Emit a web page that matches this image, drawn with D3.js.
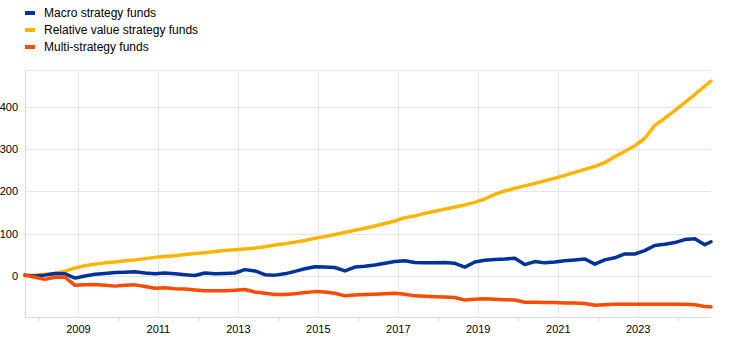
<!DOCTYPE html>
<html>
<head>
<meta charset="utf-8">
<script src="https://cdn.jsdelivr.net/npm/d3@7"></script>
<style>
  html, body { margin: 0; padding: 0; background: #fff; }
  svg { display: block; font-family: Arial, "Liberation Sans", sans-serif; }
</style>
</head>
<body>
<svg id="chart" width="744" height="360"></svg>
<script>
// ---- Data (quarterly readings, index level) ----
const dates = [
  "2007-09-01","2007-12-01",
  "2008-03-01","2008-06-01","2008-09-01","2008-12-01",
  "2009-03-01","2009-06-01","2009-09-01","2009-12-01",
  "2010-03-01","2010-06-01","2010-09-01","2010-12-01",
  "2011-03-01","2011-06-01","2011-09-01","2011-12-01",
  "2012-03-01","2012-06-01","2012-09-01","2012-12-01",
  "2013-03-01","2013-06-01","2013-09-01","2013-12-01",
  "2014-03-01","2014-06-01","2014-09-01","2014-12-01",
  "2015-03-01","2015-06-01","2015-09-01","2015-12-01",
  "2016-03-01","2016-06-01","2016-09-01","2016-12-01",
  "2017-03-01","2017-06-01","2017-09-01","2017-12-01",
  "2018-03-01","2018-06-01","2018-09-01","2018-12-01",
  "2019-03-01","2019-06-01","2019-09-01","2019-12-01",
  "2020-03-01","2020-06-01","2020-09-01","2020-12-01",
  "2021-03-01","2021-06-01","2021-09-01","2021-12-01",
  "2022-03-01","2022-06-01","2022-09-01","2022-12-01",
  "2023-03-01","2023-06-01","2023-09-01","2023-12-01",
  "2024-03-01","2024-06-01","2024-09-01","2024-10-27"
];

const macro = [
  2, 0,
  2, 6, 5, -5,
  0, 4, 6, 8,
  9, 10, 7, 5,
  7, 5, 3, 1,
  7, 5, 6, 7,
  15, 12, 3, 2,
  5, 11, 17, 22,
  21, 20, 12, 21,
  23, 26, 30, 34,
  36, 32, 31, 31,
  32, 30, 21, 33,
  37, 39, 40, 42,
  27, 34, 31, 33,
  36, 38, 40, 28,
  38, 43, 52, 52,
  60, 72, 75, 79,
  86, 88, 74, 81
];

const relativeValue = [
  0, 2,
  4, 6, 11, 19,
  24, 28, 31, 33,
  36, 38, 41, 44,
  46, 48, 51, 53,
  55, 58, 60, 62,
  64, 66, 69, 73,
  76, 80, 84, 89,
  93, 98, 103, 108,
  113, 118, 124, 130,
  138, 142, 148, 153,
  158, 163, 168, 174,
  182, 193, 201, 207,
  213, 219, 225, 231,
  238, 245, 252, 259,
  268, 282, 295, 308,
  325, 356, 373, 391,
  410, 429, 449, 461
];

const multiStrategy = [
  2, -3,
  -8, -3, -3, -22,
  -21, -20, -22, -24,
  -22, -21, -25, -29,
  -28, -30, -31, -33,
  -35, -35, -35, -34,
  -32, -38, -41, -44,
  -44, -42, -39, -37,
  -38, -41, -47, -45,
  -44, -43, -42, -41,
  -43, -47, -48, -49,
  -50, -51, -57, -55,
  -54, -55, -56, -57,
  -62, -62, -63, -63,
  -64, -64, -65, -69,
  -68, -67, -67, -67,
  -67, -67, -67, -67,
  -67, -68, -72, -73
];

const seriesNames = ["Macro strategy funds", "Relative value strategy funds", "Multi-strategy funds"];
const seriesColors = ["#003299", "#ffb400", "#ff4b00"];
const yTicks = [0, 100, 200, 300, 400];
const labelYears = [2009, 2011, 2013, 2015, 2017, 2019, 2021, 2023];
const tickYears = [2008, 2010, 2012, 2014, 2016, 2018, 2020, 2022, 2024];

// ---- Layout ----
const svg = d3.select("#chart");
const pLeft = 25, pRight = 711, pTop = 70, pBottom = 317;
const parse = d3.timeParse("%Y-%m-%d");
const tDates = dates.map(parse);

const x = d3.scaleTime().domain(d3.extent(tDates)).range([pLeft, pRight]);
const y = d3.scaleLinear().domain([-97, 487]).range([pBottom, pTop]);

const gridColor = "#e6e6e6";

// horizontal grid
svg.append("g").selectAll("line").data(yTicks.concat([487])).join("line")
  .attr("x1", pLeft).attr("x2", pRight)
  .attr("y1", d => Math.round(y(d)) + 0.5).attr("y2", d => Math.round(y(d)) + 0.5)
  .attr("stroke", gridColor).attr("stroke-width", 1);

// vertical grid at labelled years
svg.append("g").selectAll("line").data(labelYears).join("line")
  .attr("x1", d => Math.round(x(new Date(d, 0, 1))) + 0.5)
  .attr("x2", d => Math.round(x(new Date(d, 0, 1))) + 0.5)
  .attr("y1", pTop).attr("y2", pBottom)
  .attr("stroke", gridColor).attr("stroke-width", 1);

// left axis line
svg.append("line").attr("x1", pLeft + 0.5).attr("x2", pLeft + 0.5)
  .attr("y1", pTop).attr("y2", pBottom).attr("stroke", "#d9d9d9");

// bottom axis
const xAxis = d3.axisBottom(x)
  .tickValues(tickYears.map(d => new Date(d, 0, 1)))
  .tickSize(4).tickFormat("");
const gx = svg.append("g").attr("transform", `translate(0,${pBottom + 0.5})`).call(xAxis);
gx.select(".domain").attr("stroke", "#d9d9d9").attr("d", `M${pLeft},0H${pRight}`);
gx.selectAll(".tick line").attr("stroke", "#d9d9d9");

// year labels
svg.append("g").selectAll("text").data(labelYears).join("text")
  .attr("x", d => x(new Date(d, 0, 1)))
  .attr("y", 333)
  .attr("text-anchor", "middle")
  .attr("font-size", 11)
  .attr("fill", "#000")
  .text(d => d);

// y labels
svg.append("g").selectAll("text").data(yTicks).join("text")
  .attr("x", 18)
  .attr("y", d => y(d) + 4)
  .attr("text-anchor", "end")
  .attr("font-size", 11)
  .attr("fill", "#000")
  .text(d => d);

// lines
const allSeries = [relativeValue, macro, multiStrategy];
const colorsOrdered = [seriesColors[1], seriesColors[0], seriesColors[2]];
const line = d3.line().x((d, i) => x(tDates[i])).y(d => y(d));
allSeries.forEach((s, k) => {
  svg.append("path").datum(s)
    .attr("d", line)
    .attr("fill", "none")
    .attr("stroke", colorsOrdered[k])
    .attr("stroke-width", 3.5)
    .attr("stroke-linejoin", "round")
    .attr("stroke-linecap", "round");
});

// legend
const legend = svg.append("g");
const legendY = [13, 30, 47];
seriesNames.forEach((name, i) => {
  legend.append("rect")
    .attr("x", 25).attr("y", legendY[i] - 2)
    .attr("width", 10).attr("height", 4)
    .attr("fill", seriesColors[i]);
  legend.append("text")
    .attr("x", 44).attr("y", legendY[i] + 4)
    .attr("font-size", 12)
    .attr("fill", "#000")
    .text(name);
});
</script>
</body>
</html>
